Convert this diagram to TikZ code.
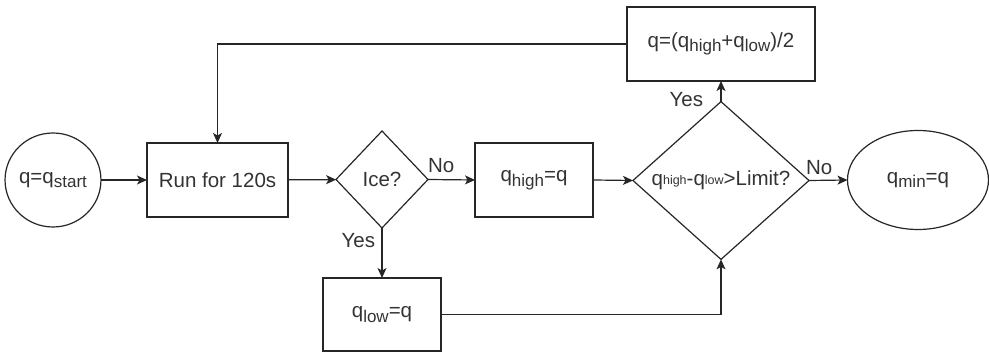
\documentclass[tikz,border=0pt]{standalone}
\usepackage{fontspec}
\setmainfont{Liberation Sans}
\usetikzlibrary{shapes.geometric,arrows.meta}

\definecolor{linecol}{RGB}{38,38,38}
\definecolor{txtcol}{RGB}{51,51,51}
\newcommand{\fmain}{\fontsize{20.5}{24}\selectfont}
% ordinary subscript and the small one used inside the test diamond
\newcommand{\sbs}[1]{\raisebox{-0.22em}{\fontsize{17}{17}\selectfont #1}}
\newcommand{\tsbs}[1]{\raisebox{0.05em}{\fontsize{12.5}{12.5}\selectfont #1}}

\tikzset{
  shapebase/.style={draw=linecol, line width=1.2pt, text=txtcol, font=\fmain,
    inner sep=0pt, outer sep=0pt, align=center},
  procbox/.style={shapebase, rectangle},
  decision/.style={shapebase, diamond},
  terminal/.style={shapebase, ellipse},
  flow/.style={draw=linecol, line width=1.2pt,
    -{Stealth[length=10pt,width=9pt,inset=2.5pt]}},
  lbl/.style={text=txtcol, font=\fmain, inner sep=0pt, outer sep=0pt}
}

\begin{document}
\begin{tikzpicture}[x=1pt,y=-1pt]
\useasboundingbox (0,0) rectangle (989,352);

% nodes
\node[terminal, minimum width=92pt, minimum height=94pt] (start) at (53,180) {q=q\sbs{start}};
\node[procbox, minimum width=141pt, minimum height=74pt] (run) at (217.5,180) {Run for 120s};
\node[decision, minimum width=92pt, minimum height=97pt] (ice) at (382,179.5) {Ice?};
\node[procbox, minimum width=118pt, minimum height=74pt] (qhigh) at (534,180) {q\sbs{high}=q};
\node[decision, minimum width=176pt, minimum height=135pt] (limit) at (721,180.5)
  {q\tsbs{high}-q\tsbs{low}>Limit?};
\node[terminal, minimum width=141pt, minimum height=99pt] (qmin) at (918,180) {q\sbs{min}=q};
\node[procbox, minimum width=188pt, minimum height=74pt] (mid) at (721,44)
  {q=(q\sbs{high}+q\sbs{low})/2};
\node[procbox, minimum width=118pt, minimum height=73pt] (qlow) at (382,314.5) {q\sbs{low}=q};

% connectors
\draw[flow] (start) -- (run);
\draw[flow] (run) -- (ice);
\draw[flow] (ice.east) -- node[lbl, pos=0, anchor=base west, yshift=7pt] {No} (qhigh.west);
\draw[flow] (ice.south) -- node[lbl, pos=0, anchor=base east, xshift=-7pt, yshift=-20pt] {Yes} (qlow.north);
\draw[flow] (qhigh.east) -- (limit.west);
\draw[flow] (limit.east) -- node[lbl, pos=0, anchor=base west, xshift=-3pt, yshift=6pt] {No} (qmin.west);
\draw[flow] (limit.north) -- node[lbl, pos=0, anchor=base east, xshift=-18pt, yshift=-5pt] {Yes} (mid.south);
\draw[flow] (mid.west) -| (run.north);
\draw[flow] (qlow.east) -| (limit.south);
\end{tikzpicture}
\end{document}
